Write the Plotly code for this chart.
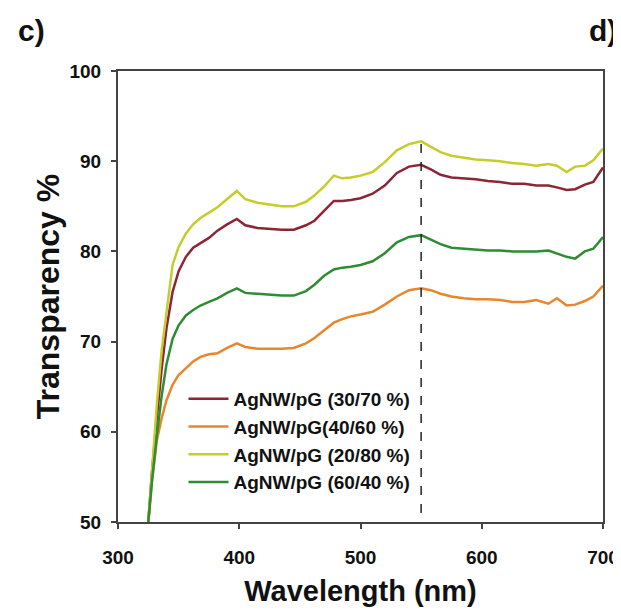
import plotly.graph_objects as go

wavelength = [325, 328, 332, 336, 340, 345, 350, 356, 362, 368, 375, 382, 390, 398,
              405, 415, 425, 435, 445, 455, 462, 470, 478, 485, 492, 500, 510, 520,
              530, 540, 550, 558, 566, 575, 585, 595, 605, 615, 625, 635, 645, 655,
              662, 670, 677, 685, 692, 700]

t_30_70 = [50, 55.5, 61.5, 67, 71.5, 75.5, 77.8, 79.4, 80.4, 80.9, 81.5, 82.3, 83.0, 83.6,
           82.9, 82.6, 82.5, 82.4, 82.4, 82.9, 83.4, 84.5, 85.6, 85.6, 85.7, 85.9, 86.4, 87.3,
           88.7, 89.4, 89.6, 89.1, 88.5, 88.2, 88.1, 88.0, 87.8, 87.7, 87.5, 87.5, 87.3, 87.3,
           87.1, 86.8, 86.9, 87.4, 87.7, 89.3]

t_40_60 = [50, 54.5, 59, 61.5, 63.5, 65.2, 66.3, 67.1, 67.8, 68.3, 68.6, 68.7, 69.3, 69.8,
           69.4, 69.2, 69.2, 69.2, 69.3, 69.8, 70.4, 71.3, 72.1, 72.5, 72.8, 73.0, 73.3, 74.1,
           75.0, 75.7, 75.9, 75.7, 75.3, 75.0, 74.8, 74.7, 74.7, 74.6, 74.4, 74.4, 74.6, 74.2,
           74.8, 74.0, 74.1, 74.5, 75.0, 76.2]

t_20_80 = [50, 56, 63, 69, 73.5, 78.5, 80.5, 82.0, 83.0, 83.7, 84.3, 84.9, 85.8, 86.7,
           85.8, 85.4, 85.2, 85.0, 85.0, 85.5, 86.2, 87.2, 88.4, 88.1, 88.2, 88.4, 88.8, 89.9,
           91.2, 91.9, 92.2, 91.6, 91.0, 90.6, 90.4, 90.2, 90.1, 90.0, 89.8, 89.7, 89.5, 89.7,
           89.5, 88.8, 89.4, 89.5, 90.1, 91.4]

t_60_40 = [50, 54.5, 59.5, 64, 67.5, 70.3, 71.8, 72.9, 73.5, 74.0, 74.4, 74.8, 75.4, 75.9,
           75.4, 75.3, 75.2, 75.1, 75.1, 75.6, 76.3, 77.3, 78.0, 78.2, 78.3, 78.5, 78.9, 79.8,
           81.0, 81.6, 81.8, 81.3, 80.8, 80.4, 80.3, 80.2, 80.1, 80.1, 80.0, 80.0, 80.0, 80.1,
           79.8, 79.4, 79.2, 80.0, 80.3, 81.6]

series_names = ["AgNW/pG (30/70 %)", "AgNW/pG(40/60 %)", "AgNW/pG (20/80 %)", "AgNW/pG (60/40 %)"]
series_values = [t_30_70, t_40_60, t_20_80, t_60_40]
series_colors = ["#8c2535", "#e8862c", "#c4cd2c", "#2e8c34"]

x_ticks = [300, 400, 500, 600, 700]
y_ticks = [50, 60, 70, 80, 90, 100]
marker_wavelength = 550
marker_top = 92.3

FONT = "Liberation Sans, Arial, sans-serif"

fig = go.Figure()
for name, vals, col in zip(series_names, series_values, series_colors):
    fig.add_trace(go.Scatter(x=wavelength, y=vals, mode="lines", name=name,
                             line=dict(color=col, width=2.5)))

fig.add_shape(type="line", xref="x", yref="y", x0=marker_wavelength, x1=marker_wavelength,
              y0=49, y1=marker_top, line=dict(color="#222", width=1.5, dash="dash"))

axis_common = dict(showline=True, linecolor="#444", linewidth=2, mirror=True,
                   showgrid=False, zeroline=False, ticks="outside", ticklen=5,
                   tickcolor="#444", tickwidth=1.5, automargin=False,
                   tickfont=dict(family=FONT, size=19, color="#111", weight="bold"))

fig.update_xaxes(range=[300, 700], tickvals=x_ticks, ticklabelstandoff=12,
                 title=dict(text="<b>Wavelength (nm)</b>", font=dict(family=FONT, size=29, color="#111"),
                            standoff=14),
                 **axis_common)
fig.update_yaxes(range=[50, 100], tickvals=y_ticks, ticklabelstandoff=6,
                 title=dict(text="<b>Transparency %</b>", font=dict(family=FONT, size=32, color="#111"),
                            standoff=0),
                 **axis_common)

fig.add_annotation(text="<b>c)</b>", xref="paper", yref="paper", x=-0.21, y=1.089,
                   xanchor="left", yanchor="middle", showarrow=False,
                   font=dict(family=FONT, size=30, color="#111"))
fig.add_annotation(text="<b>d)</b>", xref="paper", yref="paper", x=1.033, y=1.089,
                   xanchor="right", yanchor="middle", showarrow=False,
                   font=dict(family=FONT, size=30, color="#111"))

fig.update_layout(
    width=613, height=602,
    margin=dict(l=110, r=18, t=63, b=88),
    plot_bgcolor="white", paper_bgcolor="white",
    showlegend=True,
    legend=dict(x=0.135, y=0.315, xanchor="left", yanchor="top",
                bgcolor="rgba(0,0,0,0)", borderwidth=0,
                font=dict(family=FONT, size=19, color="#111", weight="bold"),
                itemwidth=40, tracegroupgap=0),
)

fig.write_html("out.html")
